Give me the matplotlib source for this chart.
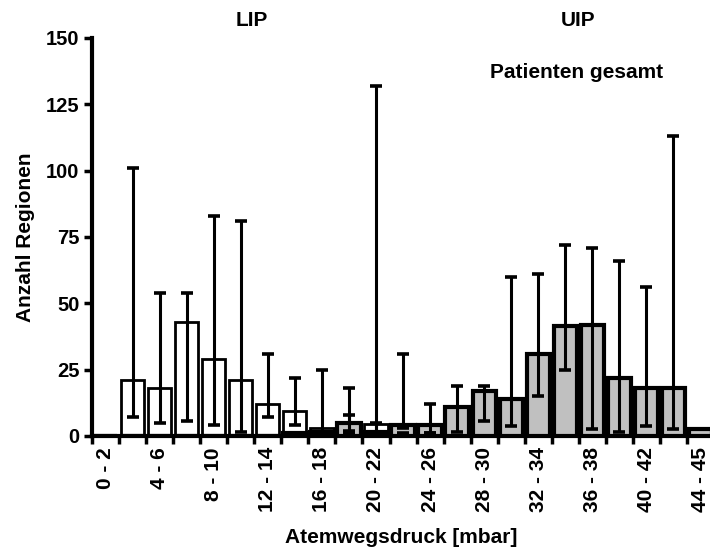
import numpy as np
import matplotlib
matplotlib.use("Agg")
import matplotlib.pyplot as plt

plt.rcParams['font.family'] = ['Liberation Sans', 'DejaVu Sans']
plt.rcParams['font.weight'] = 'bold'

# pressure bins (mbar)
bins = ["0 - 2", "2 - 4", "4 - 6", "6 - 8", "8 - 10", "10 - 12", "12 - 14",
        "14 - 16", "16 - 18", "18 - 20", "20 - 22", "22 - 24", "24 - 26",
        "26 - 28", "28 - 30", "30 - 32", "32 - 34", "34 - 36", "36 - 38",
        "38 - 40", "40 - 42", "42 - 44", "44 - 45"]

# LIP: median count of regions with min / max range
lip = [0, 21, 18, 43, 29, 21, 12, 9.5, 3, 3, 4.5, 1, 1,
       0, 0, 0, 0, 0, 0, 0, 0, 0, 0]
lip_min = [0, 7, 5, 5.5, 4, 1.5, 7, 4, 1, 1, 1, 0.5, 0.5,
           0, 0, 0, 0, 0, 0, 0, 0, 0, 0]
lip_max = [0, 101, 54, 54, 83, 81, 31, 22, 25, 18, 132, 1, 1,
           0, 0, 0, 0, 0, 0, 0, 0, 0, 0]

# UIP
uip = [0, 0, 0, 0, 0, 0, 0, 1, 1.5, 5, 1.5, 4, 4,
       11, 17, 14, 31, 41.5, 42, 22, 18, 18, 2.5]
uip_min = [0, 0, 0, 0, 0, 0, 0, 1, 1.5, 2, 1.5, 3, 1,
           1.4, 5.7, 3.8, 15, 25, 2.6, 1.4, 3.8, 2.6, 2.5]
uip_max = [0, 0, 0, 0, 0, 0, 0, 1, 1.5, 8, 5, 31, 12,
           19, 19, 60, 61, 72, 71, 66, 56, 113, 2.5]

x = np.arange(len(bins)) + 0.5

fig = plt.figure(figsize=(7.10, 5.53), dpi=100)
ax = fig.add_axes([0.1296, 0.2116, 0.8704, 0.7197])

ax.bar(x, lip, width=0.86, color='white', edgecolor='black', linewidth=2, zorder=2)
ax.bar(x, uip, width=0.86, color='#c0c0c0', edgecolor='black', linewidth=3, zorder=3)

lip = np.array(lip)
uip = np.array(uip)
lerr = [lip - np.array(lip_min), np.array(lip_max) - lip]
uerr = [uip - np.array(uip_min), np.array(uip_max) - uip]
ax.errorbar(x, lip, yerr=lerr, fmt='none', ecolor='black', elinewidth=2.2,
            capsize=4.5, capthick=2.6, zorder=4)
ax.errorbar(x, uip, yerr=uerr, fmt='none', ecolor='black', elinewidth=2.2,
            capsize=4.5, capthick=2.6, zorder=4)

ax.set_xlim(0, 22.85)
ax.set_ylim(0, 150)
ax.set_yticks([0, 25, 50, 75, 100, 125, 150])

# tick marks at bin edges, labels on every other bin
ax.set_xticks(np.arange(0, 23))
ax.set_xticklabels([])
ax.set_xticks(x[::2], minor=True)
ax.set_xticklabels(bins[::2], minor=True, rotation=90, fontsize=15,
                   fontweight='bold')
ax.tick_params(axis='x', which='minor', length=0, pad=8)
ax.tick_params(axis='x', which='major', direction='out', length=6, width=2.5)
ax.tick_params(axis='y', direction='out', length=6, width=2.5, labelsize=14.5,
               pad=3)
for lab in ax.get_yticklabels():
    lab.set_fontweight('bold')

for side in ['top', 'right']:
    ax.spines[side].set_visible(False)
ax.spines['left'].set_linewidth(3)
ax.spines['bottom'].set_linewidth(3)

ax.set_ylabel("Anzahl Regionen", fontsize=15, fontweight='bold', labelpad=8)
ax.set_xlabel("Atemwegsdruck [mbar]", fontsize=15, fontweight='bold', labelpad=11)

fig.text(252 / 710, 1 - 21 / 553, "LIP", ha='center', va='center',
         fontsize=15, fontweight='bold')
fig.text(578 / 710, 1 - 21 / 553, "UIP", ha='center', va='center',
         fontsize=15, fontweight='bold')
fig.text(577 / 710, 1 - 72 / 553, "Patienten gesamt", ha='center', va='center',
         fontsize=15, fontweight='bold')

fig.savefig("out.png", dpi=100)
